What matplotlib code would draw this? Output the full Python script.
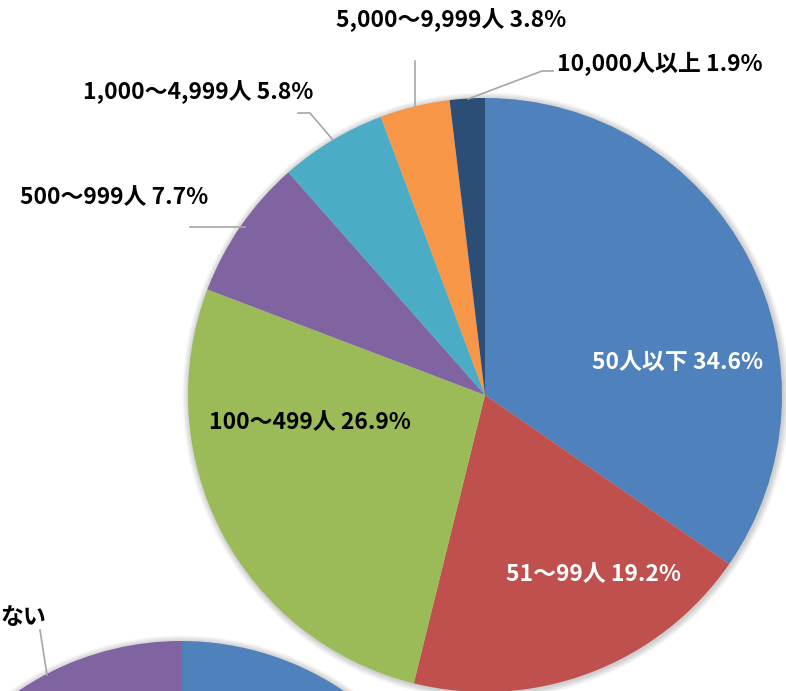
import matplotlib.pyplot as plt
from matplotlib.patches import Circle

plt.rcParams["font.family"] = ["Noto Sans CJK JP", "DejaVu Sans"]

# main pie: company size breakdown
labels = ["50人以下", "51～99人", "100～499人", "500～999人",
          "1,000～4,999人", "5,000～9,999人", "10,000人以上"]
shares = [34.6, 19.2, 26.9, 7.7, 5.8, 3.8, 1.9]
colors = ["#4F81BD", "#C0504D", "#9BBB59", "#8064A2",
          "#4BACC6", "#F79646", "#2C4D75"]

# second pie, only its top edge shows at the bottom of the picture
sub_shares = [40, 22, 23, 15]
sub_colors = ["#4F81BD", "#C0504D", "#9BBB59", "#8064A2"]
sub_label = "ない"

W, H = 786, 691


def fy(y):
    # pixel row (top down) -> data y (bottom up)
    return H - y


fig = plt.figure(figsize=(W / 100, H / 100), dpi=100)
ax = fig.add_axes([0, 0, 1, 1])

main_c = (485, fy(395))
main_r = 297
sub_c = (181, fy(931))
sub_r = 290

# soft shadow behind both pies
for c, r in [(main_c, main_r), (sub_c, sub_r)]:
    for k in range(8):
        ax.add_patch(Circle((c[0] + 1, c[1] - 1), r + 1 + k * 0.8,
                            color="black", alpha=0.025, lw=0, zorder=0))

ax.pie(shares, colors=colors, startangle=90, counterclock=False,
       center=main_c, radius=main_r, wedgeprops=dict(linewidth=0))
ax.pie(sub_shares, colors=sub_colors, startangle=90, counterclock=False,
       center=sub_c, radius=sub_r, wedgeprops=dict(linewidth=0))

ax.set_xlim(0, W)
ax.set_ylim(0, H)
ax.set_aspect("equal")
ax.axis("off")

fs = 16.5
lab = [f"{l} {s}%" for l, s in zip(labels, shares)]

# labels inside the slices
ax.text(678, fy(363), lab[0], color="white", fontsize=fs, fontweight="bold",
        ha="center", va="center")
ax.text(593, fy(575), lab[1], color="white", fontsize=fs, fontweight="bold",
        ha="center", va="center")
ax.text(310, fy(423), lab[2], color="black", fontsize=fs, fontweight="bold",
        ha="center", va="center")

# outside labels with leader lines
line_kw = dict(color="#A6A6A6", lw=1.2, zorder=3)
ax.text(114, fy(198), lab[3], fontsize=fs, fontweight="bold",
        ha="center", va="center")
ax.plot([190, 245], [fy(227), fy(227)], **line_kw)

ax.text(198, fy(92), lab[4], fontsize=fs, fontweight="bold",
        ha="center", va="center")
ax.plot([298, 310, 333], [fy(113), fy(113), fy(140)], **line_kw)

ax.text(451, fy(20), lab[5], fontsize=fs, fontweight="bold",
        ha="center", va="center")
ax.plot([415, 415], [fy(61), fy(106)], **line_kw)

ax.text(557, fy(64), lab[6], fontsize=fs, fontweight="bold",
        ha="left", va="center")
ax.plot([468, 542, 553], [fy(99), fy(71), fy(71)], **line_kw)

ax.text(1, fy(617), sub_label, fontsize=fs, fontweight="bold",
        ha="left", va="center")
ax.plot([40, 47], [fy(630), fy(675)], **line_kw)

fig.savefig("out.png", dpi=100)
